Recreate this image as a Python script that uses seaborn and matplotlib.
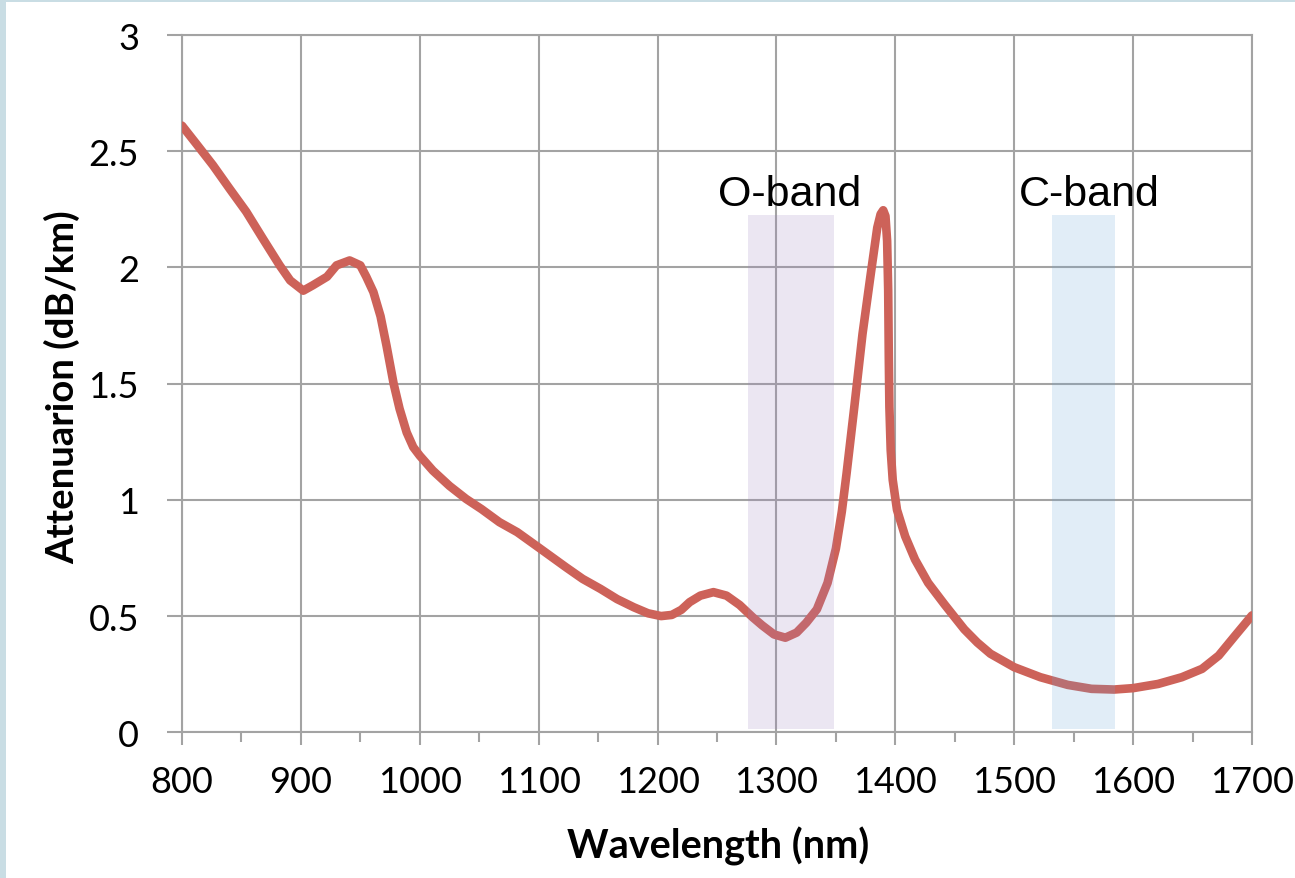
import numpy as np
import pandas as pd
import matplotlib
matplotlib.use("Agg")
import matplotlib.pyplot as plt
import seaborn as sns
from matplotlib.patches import Rectangle
from matplotlib.ticker import MultipleLocator

# ---- data ----
wavelength_nm = [800, 812, 826, 840, 854, 868, 882, 891, 902, 910, 922, 930,
                 941, 950, 955, 961, 967, 972, 978, 983, 989, 994.5, 1000,
                 1011, 1025, 1039, 1052, 1067, 1082, 1100, 1123, 1137, 1152,
                 1166, 1180, 1192, 1203, 1212, 1220, 1227, 1236, 1247, 1258,
                 1269, 1280, 1288, 1298, 1307.5, 1317, 1325, 1334, 1343, 1350,
                 1355, 1359, 1365.5, 1372.4, 1379.3, 1384.8, 1387.6, 1389.8,
                 1391.7, 1393.1, 1394, 1394.5, 1395, 1396.1, 1397.8, 1401.4,
                 1408.3, 1416.6, 1427.6, 1441.4, 1451, 1458, 1469, 1480, 1500,
                 1522, 1545, 1565, 1584, 1600, 1621, 1641, 1658, 1672, 1686,
                 1700]
attenuation_db_km = [2.61, 2.532, 2.44, 2.339, 2.24, 2.124, 2.01, 1.944, 1.90,
                     1.923, 1.96, 2.009, 2.03, 2.009, 1.96, 1.894, 1.79, 1.664,
                     1.50, 1.392, 1.29, 1.227, 1.19, 1.126, 1.06, 1.004, 0.96,
                     0.904, 0.861, 0.795, 0.71, 0.66, 0.617, 0.573, 0.538, 0.512,
                     0.500, 0.505, 0.527, 0.56, 0.588, 0.603, 0.588, 0.548,
                     0.495, 0.46, 0.421, 0.407, 0.429, 0.471, 0.529, 0.643, 0.79,
                     0.95, 1.114, 1.40, 1.714, 1.971, 2.171, 2.229, 2.246, 2.221,
                     2.114, 1.90, 1.614, 1.40, 1.214, 1.086, 0.957, 0.843, 0.743,
                     0.643, 0.55, 0.488, 0.443, 0.386, 0.338, 0.28, 0.237, 0.204,
                     0.187, 0.184, 0.19, 0.208, 0.237, 0.273, 0.33, 0.417, 0.503]

band_names = ["O-band", "C-band"]
band_start = [1276, 1532]
band_end = [1348, 1585]
band_bottom = 0.015
band_top = 2.226
band_label_x = [1311, 1563]
band_label_y = 2.27

x_ticks = [800, 900, 1000, 1100, 1200, 1300, 1400, 1500, 1600, 1700]
y_ticks = [0, 0.5, 1, 1.5, 2, 2.5, 3]
y_tick_labels = ["0", "0.5", "1", "1.5", "2", "2.5", "3"]

df = pd.DataFrame({"Wavelength (nm)": wavelength_nm,
                   "Attenuarion (dB/km)": attenuation_db_km})

# ---- style ----
sns.set_theme(style="white")
plt.rcParams["font.family"] = ["Lato", "DejaVu Sans"]
plt.rcParams["text.color"] = "black"

W, H = 1295, 879
fig = plt.figure(figsize=(W / 100, H / 100), dpi=100)
fig.patch.set_facecolor("#c9dde4")
fig.patches.append(Rectangle((6 / W, 0), 1 - 6 / W, (H - 3) / H,
                             transform=fig.transFigure, facecolor="white",
                             edgecolor="none", zorder=-10))

ax = fig.add_axes([182 / W, (H - 733.3) / H, 1070 / W, (733.3 - 36) / H])
ax.set_zorder(5)
ax.set_facecolor("white")

grid_c = "#a3a3a3"
grid_w = 1.5
sns.lineplot(data=df, x="Wavelength (nm)", y="Attenuarion (dB/km)", ax=ax,
             color="#cd6259", linewidth=6.2, zorder=3, sort=False)
for ln in ax.lines:
    ln.set_linewidth(6.2)
    ln.set_solid_capstyle("round")
    ln.set_solid_joinstyle("round")

band_colors = ["#9b82be", "#69a5d7"]
for s, e, c in zip(band_start, band_end, band_colors):
    ax.fill_between([s, e], band_bottom, band_top, color=c, alpha=0.2,
                    linewidth=0, zorder=4)
for name, lx in zip(band_names, band_label_x):
    ax.text(lx, band_label_y, name, ha="center", va="baseline",
            fontsize=31, family=["Liberation Sans", "DejaVu Sans"],
            color="black", zorder=5)

ax.set_xlim(800, 1700)
ax.set_ylim(0, 3)
ax.set_xticks(x_ticks)
ax.set_xticklabels([str(t) for t in x_ticks])
ax.xaxis.set_minor_locator(MultipleLocator(50))
ax.set_yticks(y_ticks)
ax.set_yticklabels(y_tick_labels)

ax.grid(True, which="major", color=grid_c, linewidth=grid_w, zorder=1)
ax.set_axisbelow(True)
for sp in ax.spines.values():
    sp.set_visible(True)
    sp.set_color(grid_c)
    sp.set_linewidth(grid_w)

ax.tick_params(axis="x", which="major", direction="out", length=9.6,
               width=grid_w, color=grid_c, labelsize=26, pad=14,
               labelcolor="black", bottom=True)
ax.tick_params(axis="x", which="minor", direction="out", length=7,
               width=grid_w, color=grid_c, bottom=True)
ax.tick_params(axis="y", which="major", direction="out", length=11,
               width=grid_w, color=grid_c, labelsize=26, pad=20,
               labelcolor="black", left=True)

ax.set_xlabel("Wavelength (nm)", fontsize=28.5, fontweight="bold",
              va="center", color="black")
ax.set_ylabel("Attenuarion (dB/km)", fontsize=27.5, fontweight="bold",
              va="center", color="black")
ax.xaxis.set_label_coords((718.5 - 182) / 1070, (733.3 - 846) / 697.3)
ax.yaxis.set_label_coords((62 - 182) / 1070, (733.3 - 387.5) / 697.3)

fig.savefig("out.png", dpi=100)
